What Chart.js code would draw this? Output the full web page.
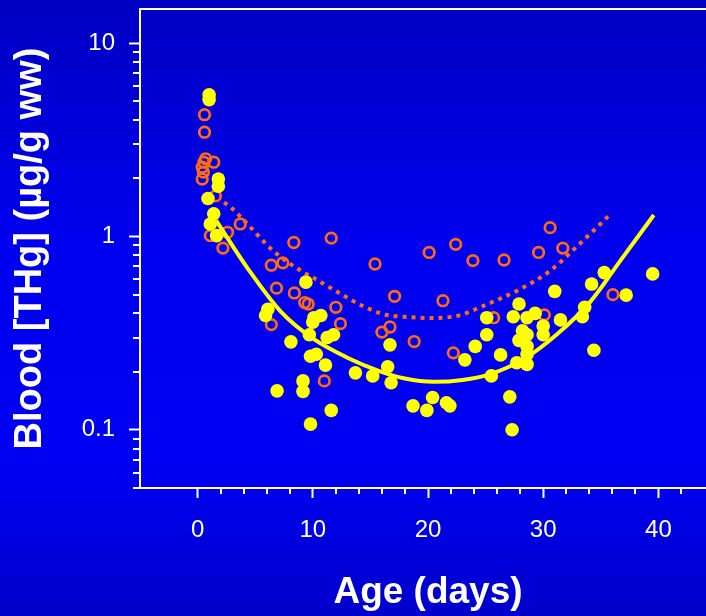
<!DOCTYPE html>
<html>
<head>
<meta charset="utf-8">
<script src="https://cdn.jsdelivr.net/npm/chart.js@4.4.1/dist/chart.umd.min.js"></script>
<style>
html, body { margin: 0; padding: 0; overflow: hidden; background: #0000d8; }
#wrap { width: 706px; height: 616px; overflow: hidden; position: relative; }
canvas { display: block; }
</style>
</head>
<body>
<div id="wrap"><canvas id="c" width="716" height="616"></canvas></div>
<script>
// ---- data ----
const yellowAge = [1.0, 1.0, 1.8, 1.8, 0.9, 1.4, 1.1, 1.65,
  9.4, 6.1, 5.9, 10.1, 10.7, 10.0, 9.7, 11.25, 11.8, 8.1, 9.8, 10.3, 11.1, 13.7, 15.2,
  9.15, 9.15, 6.9, 11.6, 9.8, 16.7, 16.5, 16.8, 18.7, 19.9, 20.4, 21.6, 21.9,
  31.0, 34.2, 35.3, 39.5, 37.2, 27.9, 25.1, 27.4, 28.6, 29.3, 31.5, 33.6, 33.4,
  30.0, 30.0, 25.1, 28.2, 28.6, 27.9, 24.1, 23.2, 26.3, 28.6, 28.6, 27.7, 28.6,
  25.5, 34.4, 27.1, 27.3];
const yellowTHg = [5.4, 5.1, 1.98, 1.82, 1.57, 1.31, 1.16, 1.01,
  0.58, 0.42, 0.39, 0.38, 0.39, 0.36, 0.31, 0.30, 0.31, 0.285, 0.24, 0.246, 0.216, 0.197, 0.19,
  0.179, 0.158, 0.159, 0.126, 0.107, 0.275, 0.212, 0.175, 0.133, 0.126, 0.147, 0.138, 0.133,
  0.52, 0.567, 0.65, 0.64, 0.497, 0.447, 0.38, 0.384, 0.38, 0.40, 0.37, 0.43, 0.384,
  0.344, 0.31, 0.31, 0.325, 0.31, 0.29, 0.27, 0.23, 0.244, 0.27, 0.246, 0.222, 0.218,
  0.19, 0.258, 0.148, 0.10];

const orangeAge = [0.6, 0.6, 0.7, 0.55, 1.4, 0.4, 0.5, 0.4, 1.55, 1.1, 2.6, 2.2, 3.7,
  8.35, 11.6, 6.4, 7.4, 15.4, 6.85, 8.4, 9.3, 9.6, 12.0, 12.4, 6.4, 11.0,
  20.1, 22.4, 17.1, 21.3, 16.7, 16.0, 18.8, 22.2, 23.9, 26.6, 30.6, 29.6, 31.7,
  25.7, 30.1, 36.05];
const orangeTHg = [4.26, 3.46, 2.52, 2.42, 2.42, 2.28, 2.15, 1.98, 1.62, 1.01, 1.05, 0.87, 1.16,
  0.93, 0.98, 0.71, 0.73, 0.72, 0.54, 0.51, 0.455, 0.447, 0.43, 0.354, 0.35, 0.179,
  0.826, 0.91, 0.49, 0.465, 0.34, 0.32, 0.286, 0.25, 0.75, 0.755, 1.11, 0.826, 0.87,
  0.38, 0.393, 0.5];

const yellowFitAge = [1.6, 4.3, 7.2, 10.1, 13.0, 15.9, 18.0, 20.5, 23.0, 25.4, 28.3, 31.2, 34.1, 36.7, 39.6];
const yellowFitTHg = [1.21, 0.69, 0.41, 0.294, 0.236, 0.20, 0.184, 0.177, 0.181, 0.194, 0.232, 0.312, 0.46, 0.75, 1.29];

const orangeFitAge = [2.3, 2.9, 6.9, 10.7, 15.9, 18.5, 20.5, 22.8, 24.5, 28.0, 30.6, 32.6, 35.7];
const orangeFitTHg = [1.5, 1.41, 0.81, 0.58, 0.40, 0.382, 0.378, 0.392, 0.43, 0.534, 0.664, 0.85, 1.28];

const xMajorTicks = [0, 10, 20, 30, 40];
const xMinorTicks = [2, 4, 6, 8, 12, 14, 16, 18, 22, 24, 26, 28, 32, 34, 36, 38, 42];
const yMajorTicks = [0.1, 1, 10];
const yMajorLabels = ['0.1', '1', '10'];
const yMinorTicks = [0.05, 0.06, 0.07, 0.08, 0.09, 0.2, 0.3, 0.4, 0.5, 0.6, 0.7, 0.8, 0.9, 2, 3, 4, 5, 6, 7, 8, 9];

const xTitle = 'Age (days)';
const yTitle = 'Blood [THg] (µg/g ww)';

// ---- build ----
const zip = (xs, ys) => xs.map((x, i) => ({ x: x, y: ys[i] }));
const YELLOW = '#ffff00';
const ORANGE = '#ff6a13';
const FONT = "'Liberation Sans', Arial, sans-serif";

const frame = {
  id: 'frame',
  beforeDraw(chart) {
    const { ctx, width, height } = chart;
    const g = ctx.createLinearGradient(0, 0, 0, height);
    g.addColorStop(0, '#0000c2');
    g.addColorStop(0.4, '#0000f0');
    g.addColorStop(0.75, '#0000f2');
    g.addColorStop(1, '#0000cc');
    ctx.save();
    ctx.fillStyle = g;
    ctx.fillRect(0, 0, width, height);
    ctx.restore();
  },
  afterDraw(chart) {
    const { ctx, chartArea } = chart;
    const xs = chart.scales.x, ys = chart.scales.y;
    ctx.save();
    ctx.strokeStyle = '#ffffff';
    ctx.lineWidth = 2;
    ctx.beginPath();
    xMinorTicks.forEach(v => {
      const p = Math.round(xs.getPixelForValue(v));
      ctx.moveTo(p, xs.top);
      ctx.lineTo(p, xs.top + 6);
    });
    yMinorTicks.forEach(v => {
      const p = Math.round(ys.getPixelForValue(v));
      ctx.moveTo(ys.right - 7, p);
      ctx.lineTo(ys.right, p);
    });
    ctx.moveTo(chartArea.left - 1, chartArea.top);
    ctx.lineTo(chartArea.right, chartArea.top);
    ctx.stroke();
    ctx.restore();
  }
};

new Chart(document.getElementById('c'), {
  type: 'scatter',
  data: {
    datasets: [
      { label: 'Yellow fit', data: zip(yellowFitAge, yellowFitTHg), showLine: true,
        borderColor: YELLOW, borderWidth: 4, pointRadius: 0, cubicInterpolationMode: 'monotone', order: 0 },
      { label: 'Yellow', data: zip(yellowAge, yellowTHg), pointRadius: 6.8, pointHoverRadius: 6.8,
        backgroundColor: YELLOW, borderWidth: 0, order: 1 },
      { label: 'Orange fit', data: zip(orangeFitAge, orangeFitTHg), showLine: true,
        borderColor: ORANGE, borderWidth: 4, borderDash: [4, 5], borderCapStyle: 'butt',
        pointRadius: 0, cubicInterpolationMode: 'monotone', order: 2 },
      { label: 'Orange', data: zip(orangeAge, orangeTHg), pointRadius: 5.3, pointHoverRadius: 5.3,
        backgroundColor: 'rgba(0,0,0,0)', borderColor: ORANGE, pointBorderWidth: 2.7, borderWidth: 2.7, order: 3 }
    ]
  },
  options: {
    responsive: false,
    animation: false,
    devicePixelRatio: 1,
    layout: { autoPadding: false, padding: { top: 9, right: 0, bottom: 0, left: 0 } },
    plugins: { legend: { display: false }, tooltip: { enabled: false } },
    scales: {
      x: {
        type: 'linear', min: -5, max: 45,
        afterBuildTicks: s => { s.ticks = xMajorTicks.map(v => ({ value: v })); },
        afterFit: s => { s.height = 128; s.paddingLeft = 0; s.paddingRight = 0; },
        ticks: { color: '#ffffff', font: { family: FONT, size: 24 }, padding: 18, maxRotation: 0,
          callback: v => String(v) },
        grid: { display: true, drawOnChartArea: false, drawTicks: true, tickLength: 10,
          tickWidth: 2, tickColor: '#ffffff' },
        border: { display: true, color: '#ffffff', width: 2 },
        title: { display: true, text: xTitle, color: '#ffffff',
          font: { family: FONT, size: 37, weight: 'bold' }, padding: { top: 0, bottom: 1 } }
      },
      y: {
        type: 'logarithmic', min: 0.05, max: 15,
        afterBuildTicks: s => { s.ticks = yMajorTicks.map(v => ({ value: v })); },
        afterFit: s => { s.width = 140; s.paddingTop = 0; s.paddingBottom = 0; },
        ticks: { color: '#ffffff', font: { family: FONT, size: 24 }, padding: 14,
          callback: v => { const i = yMajorTicks.indexOf(v); return i >= 0 ? yMajorLabels[i] : ''; } },
        grid: { display: true, drawOnChartArea: false, drawTicks: true, tickLength: 11,
          tickWidth: 2, tickColor: '#ffffff' },
        border: { display: true, color: '#ffffff', width: 2 },
        title: { display: true, text: yTitle, color: '#ffffff',
          font: { family: FONT, size: 38, weight: 'bold' }, padding: { top: 8, bottom: 0 } }
      }
    }
  },
  plugins: [frame]
});
</script>
</body>
</html>
